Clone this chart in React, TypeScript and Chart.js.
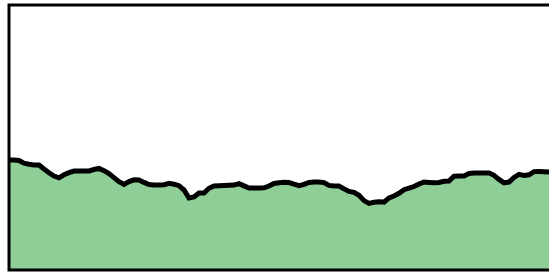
import React, { useEffect, useRef } from "react";
import { Chart, registerables } from "chart.js";

Chart.register(...registerables);

const values: number[] = [
  110, 110, 109.5, 106.8, 105.8, 105, 105, 101, 97.2, 94, 92.2, 95.2, 97.4, 99, 99, 99, 99, 100.5, 101.6, 99.3,
  96.4, 92.4, 88.3, 85.6, 88.4, 90.2, 90, 87.6, 85.4, 85, 85, 85.3, 86.7, 85.8, 84.3, 80, 72, 73, 77, 77,
  81.7, 84.1, 84.3, 84.5, 84.7, 84.9, 86.3, 84.1, 82, 82, 82, 82.2, 84, 86.5, 87.3, 87.7, 87.4, 85.8, 84.3, 85.6,
  87.6, 88, 88, 87.4, 84.6, 84, 84, 81.1, 78.6, 77.6, 74.7, 69.4, 66.6, 67.7, 68.3, 67.9, 72.1, 74, 76.7, 80.3,
  81.8, 83.5, 86, 87.9, 87.6, 87.2, 87.5, 88.7, 89, 93.8, 93.9, 94, 96.5, 97, 97, 97, 97, 94.7, 90.6, 87.2,
  87.9, 92.6, 95.6, 94.6, 95.2, 98.4, 98.6, 98.3, 98, 98, 98,
];
const labels: string[] = values.map((_, i) => String(i));
const yMin = 0;
const yMax = 265;

const framePlugin = {
  id: "frame",
  afterDraw(chart: any) {
    const { ctx, chartArea } = chart;
    ctx.save();
    ctx.strokeStyle = "#000";
    ctx.lineWidth = 3;
    ctx.strokeRect(chartArea.left, chartArea.top, chartArea.right - chartArea.left, chartArea.bottom - chartArea.top);
    ctx.restore();
  },
};

export default function App() {
  const ref = useRef<HTMLCanvasElement | null>(null);
  useEffect(() => {
    if (!ref.current) return;
    const chart = new Chart(ref.current, {
      type: "line",
      data: {
        labels,
        datasets: [
          {
            data: values,
            borderColor: "#000",
            borderWidth: 5,
            backgroundColor: "rgb(143,206,150)",
            fill: "origin",
            pointRadius: 0,
            tension: 0,
          },
        ],
      },
      options: {
        animation: false,
        responsive: false,
        layout: { padding: { left: 9, top: 5, bottom: 5, right: 11 } },
        plugins: { legend: { display: false }, tooltip: { enabled: false } },
        scales: {
          x: { display: false, offset: false },
          y: { display: false, min: yMin, max: yMax },
        },
      },
      plugins: [framePlugin],
    });
    return () => chart.destroy();
  }, []);
  return (
    <div style={{ position: "fixed", left: 0, top: 0, width: 549, height: 275, overflow: "hidden", background: "#fff" }}>
      <canvas ref={ref} width={570} height={275} style={{ display: "block" }} />
    </div>
  );
}
